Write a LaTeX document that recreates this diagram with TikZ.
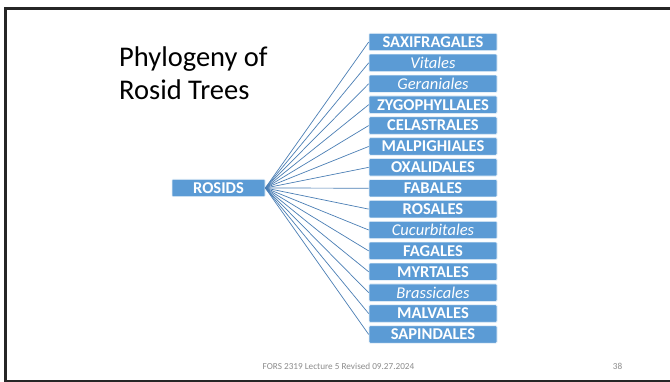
\documentclass[tikz,border=0pt]{standalone}
\usepackage{fontspec}
\setmainfont{Carlito}
\definecolor{ordblue}{HTML}{5B9BD5}
\definecolor{linkblue}{HTML}{4A7EB5}
\definecolor{footgray}{HTML}{8C8C8C}
\begin{document}
\begin{tikzpicture}[x=1pt,y=-1pt,
  order/.style={fill=ordblue, draw=white!85!ordblue, line width=0.6pt, rounded corners=1pt,
    minimum width=128pt, minimum height=17.4pt, inner sep=0pt, text=white,
    font=\fontsize{16.5}{16.5}\selectfont\bfseries},
  iorder/.style={order, font=\fontsize{16.5}{16.5}\selectfont\itshape},
  link/.style={draw=linkblue, line width=0.7pt},
  foot/.style={font=\fontsize{9.2}{10}\selectfont, text=footgray, inner sep=0pt}]
\useasboundingbox (0,0) rectangle (670,382);
\fill[white] (0,0) rectangle (670,382);
% slide frame
\draw[line width=3pt, black!85] (5,9) rectangle (680,381);
% title
\node[anchor=base west, align=left, font=\fontsize{28.5}{33.3}\selectfont, inner sep=0pt] (title)
  at (119,100) {Phylogeny of\\Rosid Trees};
% root
\node[order, minimum width=93pt] (root) at (218.5,188) {ROSIDS};
% orders
\foreach \name/\txt/\sty [count=\i from 0] in {
  o1/SAXIFRAGALES/order, o2/Vitales/iorder, o3/Geraniales/iorder,
  o4/ZYGOPHYLLALES/order, o5/CELASTRALES/order, o6/MALPIGHIALES/order,
  o7/OXALIDALES/order, o8/FABALES/order, o9/ROSALES/order,
  o10/Cucurbitales/iorder, o11/FAGALES/order, o12/MYRTALES/order,
  o13/Brassicales/iorder, o14/MALVALES/order, o15/SAPINDALES/order} {
  \node[\sty] (\name) at (433,42+20.89*\i) {\txt};
  \draw[link] (root.east) -- (\name.west);
}
% footer
\node[foot] (footer) at (338.5,366.3) {FORS 2319 Lecture 5 Revised 09.27.2024};
\node[foot] (page) at (617.5,366.3) {38};
\end{tikzpicture}
\end{document}
